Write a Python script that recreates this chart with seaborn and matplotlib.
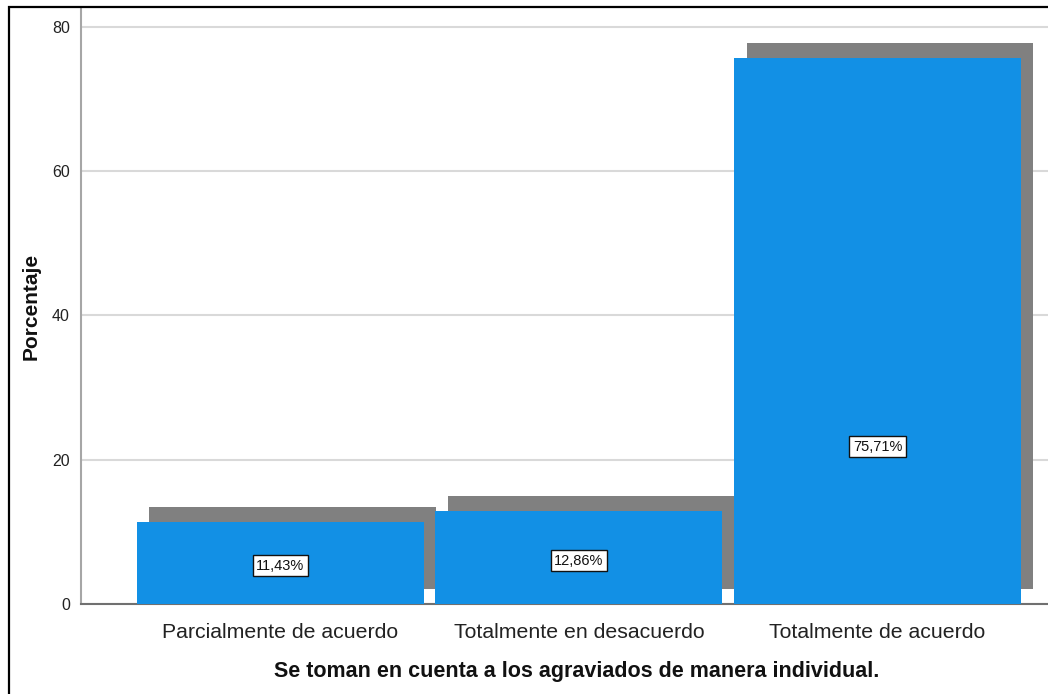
import matplotlib
matplotlib.use('Agg')
import matplotlib.pyplot as plt
import matplotlib.transforms as mtransforms
from matplotlib.patches import Rectangle
import seaborn as sns

categories = ['Parcialmente de acuerdo', 'Totalmente en desacuerdo', 'Totalmente de acuerdo']
percentages = [11.43, 12.86, 75.71]
bar_labels = ['11,43%', '12,86%', '75,71%']
y_ticks = [0, 20, 40, 60, 80]

BLUE = '#1290E5'
SHADOW = '#808080'

sns.set_style('white')
plt.rcParams['font.family'] = ['Liberation Sans', 'DejaVu Sans']

fig = plt.figure(figsize=(10.48, 6.94), dpi=100)
# axes runs past the right edge, as in the cropped screenshot
ax = fig.add_axes([81 / 1048, 90 / 694, 992 / 1048, 596 / 694])

# shadow bars, drawn first and shifted up/right in screen pixels
sns.barplot(x=categories, y=percentages, color=SHADOW, saturation=1,
            width=0.961, ax=ax, zorder=2)
shift = mtransforms.Affine2D().translate(12.5, 15)
for p in ax.patches:
    p.set_transform(ax.transData + shift)
    p.set_linewidth(0)

sns.barplot(x=categories, y=percentages, color=BLUE, saturation=1,
            width=0.961, ax=ax, zorder=3)
for p in ax.patches[len(categories):]:
    p.set_linewidth(0)

# label heights as they sit in the original (not centred on the bar)
label_y = [5.3, 6.0, 21.8]
for i, (txt, yy) in enumerate(zip(bar_labels, label_y)):
    ax.text(i, yy, txt, ha='center', va='center', fontsize=10.5, color='#111111', zorder=5,
            bbox=dict(boxstyle='square,pad=0.25', fc='white', ec='#111111', lw=1.0))

ax.set_xlim(-0.668, 2.655)
ax.set_ylim(0, 82.63)
ax.set_yticks(y_ticks)
ax.set_axisbelow(True)
ax.yaxis.grid(True, color='#D9D9D9', linewidth=1.5, zorder=0)
ax.xaxis.grid(False)

for side in ['top', 'right']:
    ax.spines[side].set_visible(False)
ax.spines['left'].set_color('#A6A6A6')
ax.spines['left'].set_linewidth(1.5)
ax.spines['bottom'].set_color('#707070')
ax.spines['bottom'].set_linewidth(1.5)

ax.tick_params(axis='y', length=0, pad=8, labelsize=11.5, labelcolor='#222222')
ax.tick_params(axis='x', length=0, pad=14, labelsize=15.3, labelcolor='#222222')

ax.set_ylabel('Porcentaje', fontsize=15, fontweight='bold', labelpad=8, color='#111111')
ax.set_xlabel('Se toman en cuenta a los agraviados de manera individual.',
              fontsize=15.5, fontweight='bold', labelpad=13, color='#111111')

# black frame around the chart (cut off at right and bottom)
fig.add_artist(Rectangle((9 / 1048, -0.1), 1.5, 1.0 - 7 / 694 + 0.1,
                         transform=fig.transFigure, fill=False,
                         edgecolor='black', linewidth=1.6, clip_on=False))

fig.savefig('out.png', dpi=100)
